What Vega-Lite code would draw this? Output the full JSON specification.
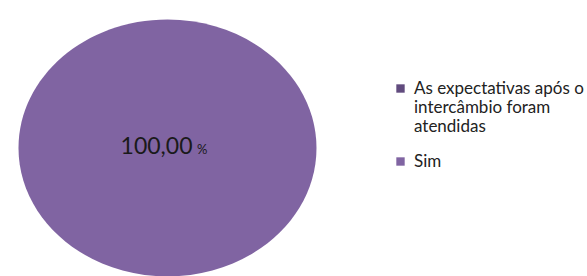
{
  "$schema": "https://vega.github.io/schema/vega-lite/v6.json",
  "width": 335,
  "height": 276,
  "padding": 0,
  "autosize": {"type": "pad"},
  "background": "white",
  "config": {
    "view": {"stroke": null},
    "locale": {"number": {"decimal": ",", "thousands": ".", "grouping": [3], "currency": ["R$", ""]}},
    "font": "Lato"
  },
  "data": {
    "values": [
      {"categoria": "As expectativas após o intercâmbio foram atendidas", "valor": 0},
      {"categoria": "Sim", "valor": 100}
    ]
  },
  "layer": [
    {
      "transform": [{"filter": "datum.valor > 0"}],
      "mark": {
        "type": "point",
        "filled": true,
        "opacity": 1,
        "size": 66000,
        "yOffset": 10,
        "xOffset": 0,
        "shape": "M -1.16 0 A 1.16 1 0 1 0 1.16 0 A 1.16 1 0 1 0 -1.16 0 Z"
      },
      "encoding": {
        "color": {
          "field": "categoria",
          "type": "nominal",
          "scale": {
            "domain": ["As expectativas após o intercâmbio foram atendidas", "Sim"],
            "range": ["#614b7e", "#8064a2"]
          },
          "legend": {
            "title": null,
            "orient": "none",
            "legendX": 392,
            "legendY": 80,
            "symbolType": "square",
            "symbolSize": 70,
            "symbolStrokeWidth": 0,
            "labelFont": "Lato",
            "labelFontSize": 17,
            "labelColor": "#222222",
            "labelOffset": 5,
            "labelLimit": 300,
            "rowPadding": 17,
            "labelExpr": "datum.label == 'Sim' ? 'Sim' : ['As expectativas após o', 'intercâmbio foram', 'atendidas']"
          }
        }
      }
    },
    {
      "transform": [{"filter": "datum.valor > 0"}],
      "mark": {"type": "text", "font": "Lato", "fontSize": 23, "color": "#1a1a1a", "align": "center", "dx": -11, "dy": 16, "baseline": "alphabetic"},
      "encoding": {
        "text": {"field": "valor", "type": "quantitative", "format": ",.2f"}
      }
    },
    {
      "transform": [{"filter": "datum.valor > 0"}],
      "mark": {"type": "text", "font": "Lato", "fontSize": 13, "color": "#1a1a1a", "align": "left", "dx": 29.5, "dy": 16, "baseline": "alphabetic", "text": "%"},
      "encoding": {}
    }
  ]
}
